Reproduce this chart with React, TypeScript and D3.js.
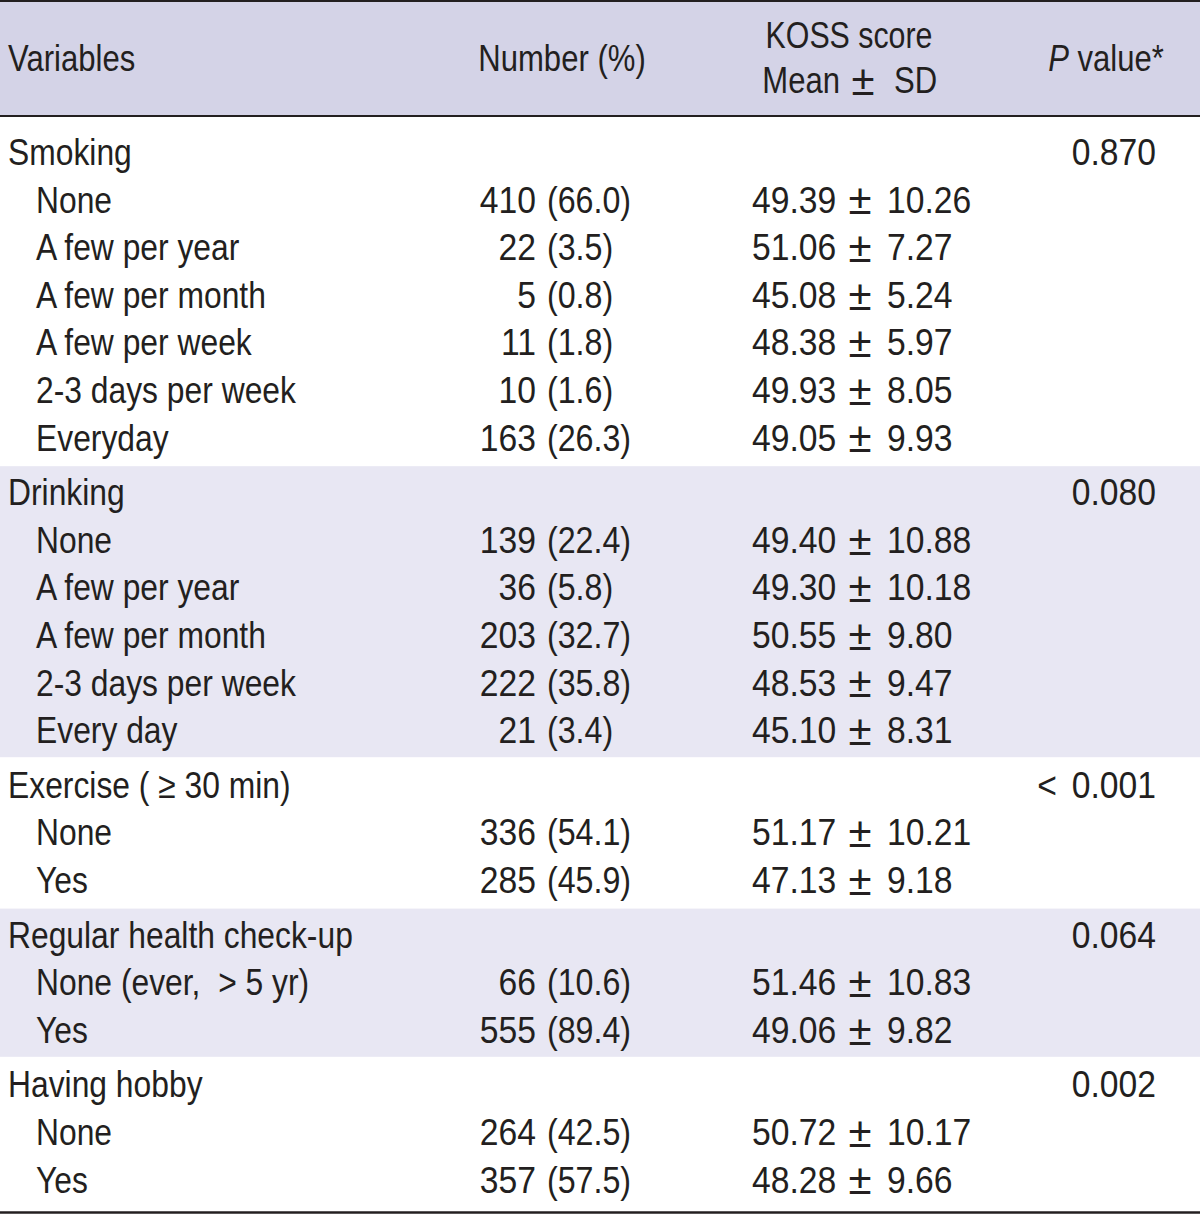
import React from "react";
import * as d3 from "d3";

const groupLabels = ["Smoking", "Drinking", "Exercise ( \u2265 30 min)", "Regular health check-up", "Having hobby"];
const groupP = ["0.870", "0.080", "< 0.001", "0.064", "0.002"];
const levelLabels = [
  ["None", "A few per year", "A few per month", "A few per week", "2-3 days per week", "Everyday"],
  ["None", "A few per year", "A few per month", "2-3 days per week", "Every day"],
  ["None", "Yes"],
  ["None (ever,  > 5 yr)", "Yes"],
  ["None", "Yes"],
];
const counts = [
  [410, 22, 5, 11, 10, 163],
  [139, 36, 203, 222, 21],
  [336, 285],
  [66, 555],
  [264, 357],
];
const percents = [
  [66.0, 3.5, 0.8, 1.8, 1.6, 26.3],
  [22.4, 5.8, 32.7, 35.8, 3.4],
  [54.1, 45.9],
  [10.6, 89.4],
  [42.5, 57.5],
];
const means = [
  [49.39, 51.06, 45.08, 48.38, 49.93, 49.05],
  [49.4, 49.3, 50.55, 48.53, 45.1],
  [51.17, 47.13],
  [51.46, 49.06],
  [50.72, 48.28],
];
const sds = [
  [10.26, 7.27, 5.24, 5.97, 8.05, 9.93],
  [10.88, 10.18, 9.8, 9.47, 8.31],
  [10.21, 9.18],
  [10.83, 9.82],
  [10.17, 9.66],
];

const W = 1200;
const H = 1215;
const FONT = "'Liberation Sans', Arial, sans-serif";
const TEXT = "#231f20";
const HEADER_BG = "#d4d3e7";
const BAND_BG = "#e8e7f3";
const LABEL_SX = 0.86;
const NUM_SX = 0.91;
const PAREN_SX = 0.87;

type Row = { kind: "group" | "level"; g: number; idx: number; label: string; n?: number; pct?: number; mean?: number; sd?: number; p?: string };

function T(props: { x: number; y: number; sx: number; anchor?: "start" | "middle" | "end"; size?: number; children: React.ReactNode }) {
  const { x, y, sx, anchor = "start", size = 37, children } = props;
  return (
    <text
      transform={`translate(${x},${y}) scale(${sx},1)`}
      dy="0.35em"
      textAnchor={anchor}
      fontSize={size}
      style={{ whiteSpace: "pre" }}
    >
      {children}
    </text>
  );
}

export default function App() {
  const rows: Row[] = [];
  groupLabels.forEach((gl, g) => {
    rows.push({ kind: "group", g, idx: rows.length, label: gl, p: groupP[g] });
    levelLabels[g].forEach((ll, i) => {
      rows.push({ kind: "level", g, idx: rows.length, label: ll, n: counts[g][i], pct: percents[g][i], mean: means[g][i], sd: sds[g][i] });
    });
  });

  const rowScale = d3.scaleLinear().domain([0, rows.length - 1]).range([152, 152 + (rows.length - 1) * 47.6]);
  const gapScale = d3.scaleLinear().domain([0, groupLabels.length - 1]).range([0, 7 * (groupLabels.length - 1)]);
  const yOf = (r: Row) => rowScale(r.idx) + gapScale(r.g);

  const bands = groupLabels.map((_, g) => {
    const gr = rows.filter((r) => r.g === g);
    const first = yOf(gr[0]);
    const last = yOf(gr[gr.length - 1]);
    return { g, top: g === 0 ? first - 36 : first - 26, bottom: g === groupLabels.length - 1 ? last + 33 : last + 27 };
  });
  const headerBottom = bands[0].top;
  const tableBottom = bands[bands.length - 1].bottom;

  const x = {
    group: 8,
    level: 36,
    countRight: 536,
    pctLeft: 547,
    numberHead: 562,
    kossLeft: 752,
    pm: 860,
    sdLeft: 887,
    kossHead: 849,
    meanHeadRight: 840,
    pmHead: 863,
    sdHeadLeft: 894,
    pRight: 1156,
    pHead: 1106,
  };
  const f1 = d3.format(".1f");
  const f2 = d3.format(".2f");

  const pText = (p: string) => {
    const parts = p.split(" ");
    if (parts.length === 2) {
      return (
        <>
          <tspan>{parts[0]}</tspan>
          <tspan dx={6}>{" " + parts[1]}</tspan>
        </>
      );
    }
    return p;
  };

  return (
    <svg width={W} height={H} style={{ position: "absolute", left: 0, top: 0, display: "block", background: "#fff" }}>
      <rect x={0} y={0} width={W} height={headerBottom} fill={HEADER_BG} />
      {bands.filter((b) => b.g % 2 === 1).map((b) => (
        <rect key={b.g} x={0} y={b.top} width={W} height={b.bottom - b.top} fill={BAND_BG} />
      ))}
      <line x1={0} x2={W} y1={1} y2={1} stroke={TEXT} strokeWidth={2} />
      <line x1={0} x2={W} y1={headerBottom} y2={headerBottom} stroke={TEXT} strokeWidth={2} />
      <line x1={0} x2={W} y1={tableBottom} y2={tableBottom} stroke={TEXT} strokeWidth={2.5} />

      <g fontFamily={FONT} fill={TEXT}>
        <T x={x.group} y={58} sx={0.84}>Variables</T>
        <T x={x.numberHead} y={58} sx={0.84} anchor="middle">Number (%)</T>
        <T x={x.kossHead} y={35} sx={0.82} anchor="middle">KOSS score</T>
        <T x={x.meanHeadRight} y={80} sx={0.84} anchor="end">Mean</T>
        <T x={x.pmHead} y={80} sx={1} anchor="middle" size={42}>±</T>
        <T x={x.sdHeadLeft} y={80} sx={0.84}>SD</T>
        <T x={x.pHead} y={58} sx={0.84} anchor="middle">
          <tspan fontStyle="italic">P</tspan> value*
        </T>

        {rows.map((r) => {
          const y = yOf(r);
          if (r.kind === "group") {
            return (
              <g key={r.idx}>
                <T x={x.group} y={y} sx={LABEL_SX}>{r.label}</T>
                <T x={x.pRight} y={y} sx={NUM_SX} anchor="end">{pText(r.p!)}</T>
              </g>
            );
          }
          return (
            <g key={r.idx}>
              <T x={x.level} y={y} sx={LABEL_SX}>{r.label}</T>
              <T x={x.countRight} y={y} sx={NUM_SX} anchor="end">{String(r.n)}</T>
              <T x={x.pctLeft} y={y} sx={PAREN_SX}>{`(${f1(r.pct!)})`}</T>
              <T x={x.kossLeft} y={y} sx={NUM_SX}>{f2(r.mean!)}</T>
              <T x={x.pm} y={y} sx={1} anchor="middle" size={42}>±</T>
              <T x={x.sdLeft} y={y} sx={NUM_SX}>{f2(r.sd!)}</T>
            </g>
          );
        })}
      </g>
    </svg>
  );
}
